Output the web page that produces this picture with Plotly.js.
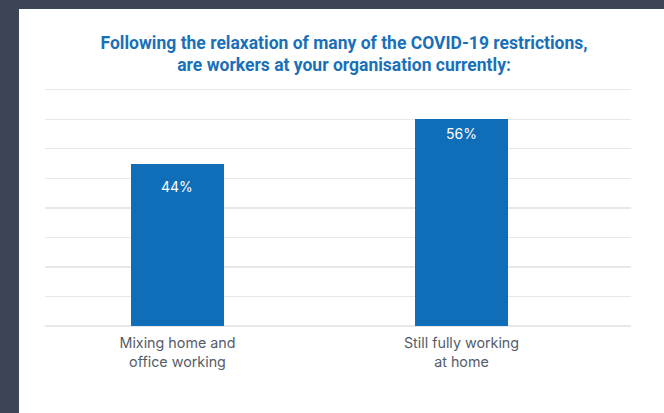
<!DOCTYPE html>
<html>
<head>
<meta charset="utf-8">
<script src="https://cdn.plot.ly/plotly-3.0.1.min.js"></script>
<style>
  html, body { margin: 0; padding: 0; background: #3b4554; width: 664px; height: 413px; overflow: hidden; }
  #chart { position: absolute; left: 19px; top: 9px; width: 645px; height: 404px; background: #ffffff; }
</style>
</head>
<body>
<div id="chart"></div>
<script>
const categories = ["Mixing home and<br>office working", "Still fully working<br>at home"];
const values = [44, 56];
const valueLabels = ["44%", "56%"];
const titleText = "Following the relaxation of many of the COVID-19 restrictions,<br>are workers at your organisation currently:";

const barColor = "#106eb9";
const labelShift = [-23, -14];

const trace = {
  type: "bar",
  x: [0, 1],
  y: values,
  width: 0.327,
  marker: { color: barColor, line: { width: 0 } },
  hoverinfo: "none"
};

const annotations = values.map((v, i) => ({
  x: i, y: v, xref: "x", yref: "y",
  text: valueLabels[i],
  showarrow: false,
  yanchor: "middle",
  yshift: labelShift[i],
  font: { family: "Inter, Roboto, sans-serif", size: 14, color: "#ffffff" }
}));

const layout = {
  width: 645,
  height: 404,
  margin: { l: 26, r: 33, t: 78.65, b: 86.5, pad: 0 },
  paper_bgcolor: "#ffffff",
  plot_bgcolor: "rgba(0,0,0,0)",
  showlegend: false,
  title: {
    text: titleText,
    x: 0.504, xref: "container", xanchor: "center",
    y: 0.902, yref: "container", yanchor: "middle",
    font: { family: "Roboto, sans-serif", size: 17.5, color: "#1a70b8", weight: 700 }
  },
  xaxis: {
    range: [-0.4665, 1.5969],
    tickmode: "array",
    tickvals: [0, 1],
    ticktext: categories,
    showgrid: false,
    zeroline: false,
    showline: false,
    ticks: "",
    ticklabelstandoff: 7,
    tickfont: { family: "Inter, Roboto, sans-serif", size: 14.3, color: "#555c69" },
    fixedrange: true
  },
  yaxis: {
    range: [0, 64.5],
    dtick: 8,
    tick0: 0,
    showticklabels: false,
    showgrid: true,
    gridcolor: "#e8e8e8",
    gridwidth: 1.2,
    zeroline: true,
    zerolinecolor: "#e8e8e8",
    zerolinewidth: 1.2,
    showline: false,
    ticks: "",
    fixedrange: true
  },
  annotations: annotations,
  bargap: 0
};

Plotly.newPlot("chart", [trace], layout, { displayModeBar: false, staticPlot: true });
</script>
</body>
</html>
